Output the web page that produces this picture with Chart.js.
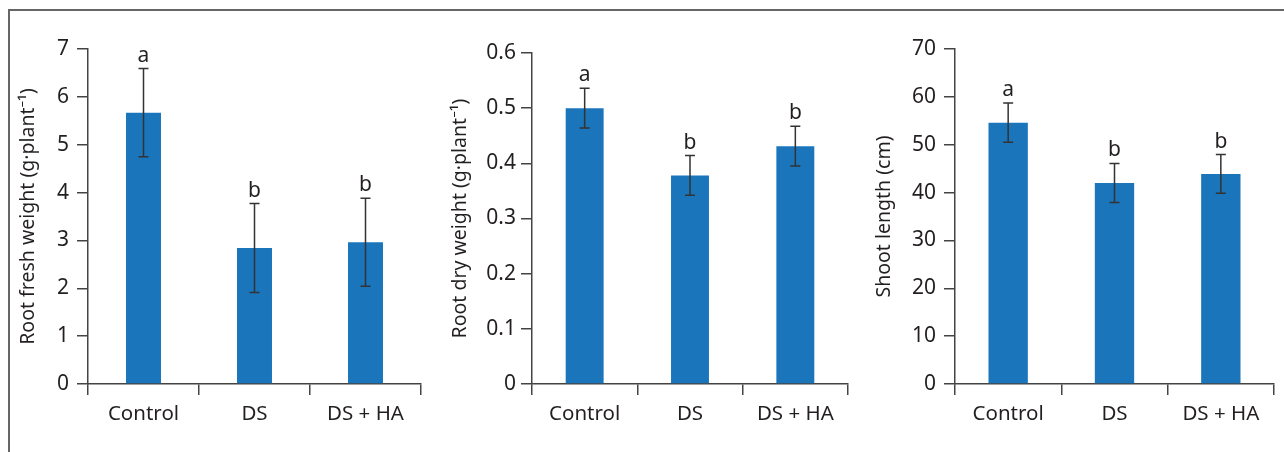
<!DOCTYPE html>
<html lang="en">
<head>
    <meta charset="UTF-8">
    <title>Root and shoot growth</title>
    <script src="https://cdn.jsdelivr.net/npm/chart.js"></script>
    <style>
        body {
            margin: 0;
            width: 1284px;
            height: 452px;
            background: #fff;
            position: relative;
            overflow: hidden;
            font-family: "Noto Sans", sans-serif;
        }
        .frame {
            position: absolute;
            left: 8px;
            top: 9px;
            width: 1290px;
            height: 460px;
            border-top: 2px solid #666;
            border-left: 2px solid #666;
        }
        canvas {
            position: absolute;
            top: 0;
        }
    </style>
</head>
<body>
    <div class="frame"></div>
    <canvas id="freshChart" width="420" height="452" style="left:10px"></canvas>
    <canvas id="dryChart" width="425" height="452" style="left:430px"></canvas>
    <canvas id="shootChart" width="429" height="452" style="left:855px"></canvas>

    <script>
        // treatments
        const groups = ['Control', 'DS', 'DS + HA'];

        // root fresh weight (g·plant-1)
        const freshMean = [5.67, 2.84, 2.96];
        const freshErr = [0.92, 0.93, 0.92];
        const freshLetters = ['a', 'b', 'b'];

        // root dry weight (g·plant-1)
        const dryMean = [0.50, 0.378, 0.431];
        const dryErr = [0.036, 0.036, 0.036];
        const dryLetters = ['a', 'b', 'b'];

        // shoot length (cm)
        const shootMean = [54.6, 42.0, 43.9];
        const shootErr = [4.1, 4.1, 4.05];
        const shootLetters = ['a', 'b', 'b'];

        const barColor = '#1a75bb';
        const inkColor = '#231f20';
        const axisColor = '#444';

        // error bars + significance letters, drawn from the bar elements and y scale
        const errorBarPlugin = {
            id: 'errorBars',
            afterDatasetsDraw(chart, args, opts) {
                const ctx = chart.ctx;
                const yScale = chart.scales.y;
                const meta = chart.getDatasetMeta(0);
                const means = chart.data.datasets[0].data;
                ctx.save();
                meta.data.forEach((bar, i) => {
                    const x = bar.x;
                    const top = yScale.getPixelForValue(means[i] + opts.err[i]);
                    const bot = yScale.getPixelForValue(means[i] - opts.err[i]);
                    ctx.strokeStyle = '#333';
                    ctx.lineWidth = 1.5;
                    ctx.beginPath();
                    ctx.moveTo(x, top);
                    ctx.lineTo(x, bot);
                    ctx.moveTo(x - 5, top);
                    ctx.lineTo(x + 5, top);
                    ctx.moveTo(x - 5, bot);
                    ctx.lineTo(x + 5, bot);
                    ctx.stroke();

                    ctx.fillStyle = inkColor;
                    ctx.font = '21px "Noto Sans"';
                    ctx.textAlign = 'center';
                    ctx.textBaseline = 'alphabetic';
                    ctx.fillText(opts.letters[i], x, top - 7);
                });
                ctx.restore();
            }
        };

        function makeChart(id, cfg) {
            const ctx = document.getElementById(id).getContext('2d');
            return new Chart(ctx, {
                type: 'bar',
                data: {
                    labels: groups,
                    datasets: [{
                        data: cfg.means,
                        backgroundColor: barColor,
                        borderWidth: 0,
                        barPercentage: cfg.barPct,
                        categoryPercentage: 1
                    }]
                },
                options: {
                    responsive: false,
                    animation: false,
                    layout: {
                        padding: { top: cfg.top, right: cfg.right, bottom: 0, left: 0 }
                    },
                    plugins: {
                        legend: { display: false },
                        tooltip: { enabled: false },
                        errorBars: { err: cfg.err, letters: cfg.letters }
                    },
                    scales: {
                        x: {
                            offset: true,
                            grid: {
                                offset: true,
                                drawOnChartArea: false,
                                tickLength: 11,
                                color: axisColor,
                                lineWidth: 1.5
                            },
                            border: { display: true, color: axisColor, width: 1.5 },
                            ticks: {
                                color: inkColor,
                                padding: 7,
                                font: { family: 'Noto Sans', size: 20.5 }
                            },
                            afterFit: (scale) => { scale.height = 68; }
                        },
                        y: {
                            min: 0,
                            max: cfg.max,
                            ticks: {
                                stepSize: cfg.step,
                                color: inkColor,
                                padding: cfg.tickPad,
                                font: { family: 'Noto Sans', size: 21 }
                            },
                            grid: {
                                drawOnChartArea: false,
                                tickLength: 11,
                                color: axisColor,
                                lineWidth: 1.5
                            },
                            border: { display: true, color: axisColor, width: 1.5 },
                            title: {
                                display: true,
                                text: cfg.title,
                                color: inkColor,
                                padding: { top: cfg.titlePad, bottom: 0 },
                                font: { family: 'Noto Sans', size: 19.5 }
                            },
                            afterFit: (scale) => { scale.width = cfg.axisWidth; }
                        }
                    }
                },
                plugins: [errorBarPlugin]
            });
        }

        makeChart('freshChart', {
            means: freshMean, err: freshErr, letters: freshLetters,
            max: 7, step: 1, title: 'Root fresh weight (g·plant⁻¹)',
            top: 49, right: 9, axisWidth: 78, tickPad: 8, titlePad: 7, barPct: 0.315
        });
        makeChart('dryChart', {
            means: dryMean, err: dryErr, letters: dryLetters,
            max: 0.6, step: 0.1, title: 'Root dry weight (g·plant⁻¹)',
            top: 53, right: 7, axisWidth: 102, tickPad: 5, titlePad: 19, barPct: 0.36
        });
        makeChart('shootChart', {
            means: shootMean, err: shootErr, letters: shootLetters,
            max: 70, step: 10, title: 'Shoot length (cm)',
            top: 49, right: 10, axisWidth: 100, tickPad: 8, titlePad: 18, barPct: 0.37
        });
    </script>
</body>
</html>
